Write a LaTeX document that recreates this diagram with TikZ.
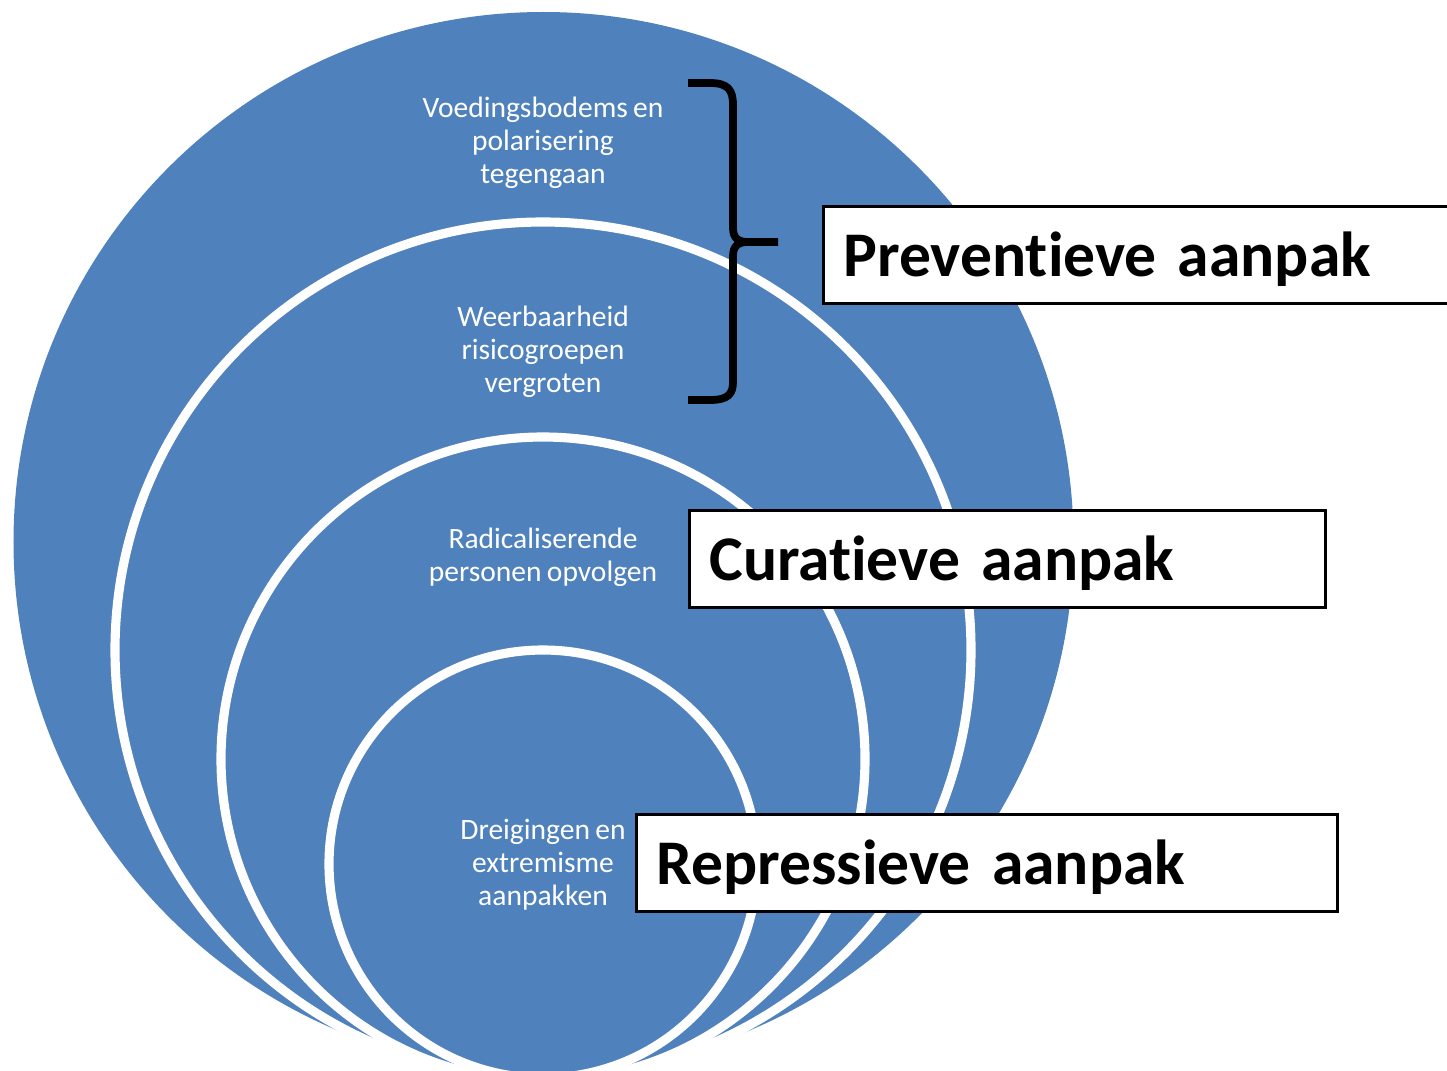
\documentclass[tikz,border=0pt]{standalone}
\usepackage{fontspec}
\setmainfont[RawFeature={-liga;-clig;-calt;-dlig},WordSpace=0.8]{Carlito}
\definecolor{layerblue}{RGB}{79,129,189}

\begin{document}
\begin{tikzpicture}[ring/.style={fill=layerblue,draw=white,line width=2.6pt},layertext/.style={text=white,align=center,font=\fontsize{8.4}{9.4}\selectfont},approach/.style={draw,fill=white,line width=0.8pt,anchor=north west,minimum height=0.97cm,inner ysep=0pt,inner xsep=0.2cm,text height=0.55cm,text depth=0.12cm,align=left,font=\bfseries\fontsize{18.1}{22}\selectfont},bracket/.style={line width=2.2pt}]
    \useasboundingbox (0,0) rectangle (14.47,10.70);
    \fill[layerblue] (5.435,5.28) circle (5.30);
    \draw[ring] (5.43,4.20) circle (4.28);
    \draw[ring] (5.43,3.11) circle (3.22);
    \draw[ring] (5.43,2.06) circle (2.14);
    \node[layertext] (voeding) at (5.43,9.27) {Voedingsbodems en\\polarisering\\tegengaan};
    \node[layertext] (weerbaar) at (5.43,7.18) {Weerbaarheid\\risicogroepen\\vergroten};
    \node[layertext] (radical) at (5.43,5.13) {Radicaliserende\\personen opvolgen};
    \node[layertext] (dreiging) at (5.43,2.05) {Dreigingen en\\extremisme\\aanpakken};
    \draw[bracket] (6.88,9.87) -- (7.10,9.87) .. controls (7.28,9.87) and (7.33,9.80) .. (7.33,9.65) -- (7.33,8.42) .. controls (7.33,8.32) and (7.38,8.28) .. (7.48,8.28) -- (7.78,8.28);
    \draw[bracket] (7.48,8.28) .. controls (7.38,8.28) and (7.33,8.24) .. (7.33,8.14) -- (7.33,6.88) .. controls (7.33,6.76) and (7.28,6.70) .. (7.10,6.70) -- (6.88,6.70);
    \node[approach,text width=6.0cm] (prev) at (8.22,8.65) {Preventieve aanpak};
    \node[approach,text width=5.96cm] (cur) at (6.88,5.61) {Curatieve aanpak};
    \node[approach,text width=6.61cm] (rep) at (6.35,2.57) {Repressieve aanpak};
\end{tikzpicture}
\end{document}
